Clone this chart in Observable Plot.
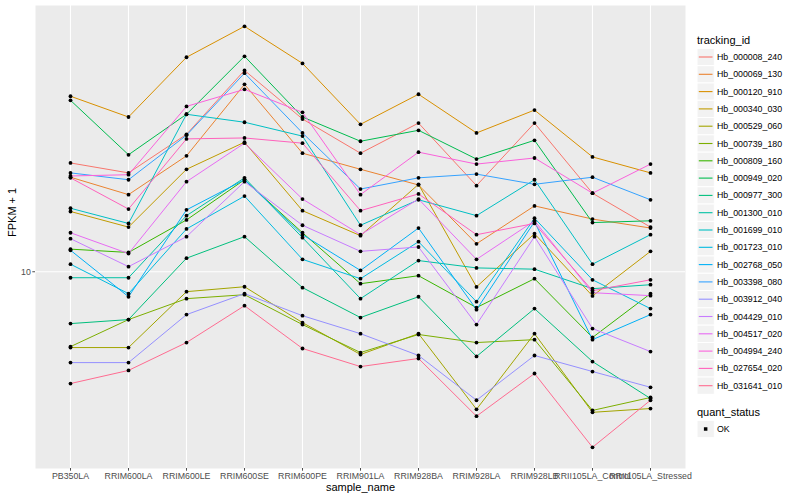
<!DOCTYPE html>
<html><head><meta charset="utf-8">
<script src="https://cdn.jsdelivr.net/npm/d3@7"></script>
<script src="https://cdn.jsdelivr.net/npm/@observablehq/plot@0.6"></script>
<style>
body{margin:0;background:#fff;}
</style></head><body><div id="wrap"></div>
<script>
const FONT = "'Liberation Sans', Arial, Helvetica, sans-serif";
const samples = ["PB350LA","RRIM600LA","RRIM600LE","RRIM600SE","RRIM600PE","RRIM901LA","RRIM928BA","RRIM928LA","RRIM928LB","RRII105LA_Control","RRII105LA_Stressed"];
const trackingIds = ["Hb_000008_240","Hb_000069_130","Hb_000120_910","Hb_000340_030","Hb_000529_060","Hb_000739_180","Hb_000809_160","Hb_000949_020","Hb_000977_300","Hb_001300_010","Hb_001699_010","Hb_001723_010","Hb_002768_050","Hb_003398_080","Hb_003912_040","Hb_004429_010","Hb_004517_020","Hb_004994_240","Hb_027654_020","Hb_031641_010"];
const colors = ["#F8766D","#EA8331","#D89000","#C09B00","#A3A500","#7CAE00","#39B600","#00BB4E","#00BF7D","#00C1A3","#00BFC4","#00BAE0","#00B0F6","#35A2FF","#9590FF","#C77CFF","#E76BF3","#FA62DB","#FF62BC","#FF6C91"];

// FPKM + 1 per sample, in the order of `samples`
const Hb_000008_240 = [23.1, 21.4, 28.8, 47.1, 32.4, 24.9, 31.4, 19.4, 31.4, 18.3, 14.1];
const Hb_000069_130 = [20.7, 18.1, 24.4, 42.3, 24.9, 22.0, 19.5, 12.4, 16.6, 15.0, 14.0];
const Hb_000120_910 = [38.6, 32.9, 52.1, 66.1, 49.7, 31.1, 39.2, 29.1, 34.7, 24.2, 21.4];
const Hb_000340_030 = [15.9, 14.1, 22.0, 27.1, 16.0, 13.2, 19.6, 8.9, 13.4, 8.3, 11.7];
const Hb_000529_060 = [5.58, 5.58, 8.58, 8.91, 6.76, 5.29, 6.21, 3.47, 6.21, 3.39, 3.49];
const Hb_000739_180 = [5.62, 6.92, 8.13, 8.38, 6.66, 5.37, 6.17, 5.80, 5.93, 3.44, 3.80];
const Hb_000809_160 = [11.9, 11.6, 14.9, 20.3, 13.5, 9.12, 9.70, 7.59, 9.48, 6.03, 8.45];
const Hb_000949_020 = [37.4, 24.6, 33.6, 52.5, 32.9, 27.3, 29.7, 23.8, 27.5, 14.6, 14.8];
const Hb_000977_300 = [6.71, 6.92, 11.1, 13.1, 8.85, 7.03, 8.25, 5.21, 7.53, 5.01, 3.77];
const Hb_001300_010 = [9.55, 9.55, 15.4, 20.6, 13.0, 8.13, 10.9, 10.3, 10.2, 8.78, 9.05];
const Hb_001699_010 = [16.3, 14.5, 33.6, 31.6, 28.4, 14.3, 17.4, 15.4, 20.3, 10.6, 13.3];
const Hb_001723_010 = [10.6, 8.45, 13.9, 17.9, 11.0, 9.48, 12.6, 7.94, 15.1, 9.40, 7.53];
const Hb_002768_050 = [11.8, 8.25, 16.1, 20.3, 13.3, 10.1, 14.0, 7.47, 14.7, 5.93, 7.19];
const Hb_003398_080 = [21.4, 20.3, 28.6, 46.1, 29.1, 18.9, 20.6, 21.2, 19.6, 20.7, 17.4];
const Hb_003912_040 = [4.97, 4.97, 7.19, 8.45, 7.13, 6.21, 5.25, 3.72, 5.25, 4.64, 4.11];
const Hb_004429_010 = [12.9, 10.4, 13.1, 20.0, 14.3, 11.7, 12.1, 6.66, 13.1, 6.46, 5.41];
const Hb_004517_020 = [13.5, 11.5, 20.0, 26.9, 17.5, 13.3, 17.5, 11.0, 14.8, 8.51, 8.32];
const Hb_004994_240 = [20.9, 21.1, 35.7, 40.7, 34.1, 18.1, 25.1, 22.9, 24.0, 18.3, 22.9];
const Hb_027654_020 = [20.6, 16.2, 27.8, 28.0, 26.9, 16.0, 18.2, 13.3, 14.5, 8.64, 9.40];
const Hb_031641_010 = [4.23, 4.68, 5.80, 7.70, 5.54, 4.82, 5.13, 3.29, 4.57, 2.59, 3.72];

const seriesValues = [Hb_000008_240, Hb_000069_130, Hb_000120_910, Hb_000340_030, Hb_000529_060, Hb_000739_180, Hb_000809_160, Hb_000949_020, Hb_000977_300, Hb_001300_010, Hb_001699_010, Hb_001723_010, Hb_002768_050, Hb_003398_080, Hb_003912_040, Hb_004429_010, Hb_004517_020, Hb_004994_240, Hb_027654_020, Hb_031641_010];
const yTicks = [10];
const quantStatus = ["OK"];

const rows = [];
trackingIds.forEach((id, i) => {
  samples.forEach((s, j) => rows.push({id, sample: s, value: seriesValues[i][j], status: "OK"}));
});

const chart = Plot.plot({
  width: 800, height: 500,
  marginLeft: 35, marginRight: 115, marginTop: 5, marginBottom: 32,
  style: {fontFamily: FONT, background: "white", overflow: "visible"},
  x: {type: "point", domain: samples, padding: 0.6},
  y: {type: "log", domain: [2.2, 77.6]},
  color: {domain: trackingIds, range: colors},
  marks: [
    Plot.frame({fill: "#EBEBEB", stroke: "none"}),
    Plot.gridX(samples, {stroke: "white", strokeOpacity: 1, strokeWidth: 1.1}),
    Plot.gridY(yTicks, {stroke: "white", strokeOpacity: 1, strokeWidth: 1.1}),
    Plot.axisX({tickSize: 2.7, tickPadding: 2, fontSize: 8.8, color: "#4D4D4D", label: null}),
    Plot.axisY({ticks: yTicks, tickFormat: d => String(d), tickSize: 2.7, tickPadding: 2, fontSize: 8.8, color: "#4D4D4D", label: null}),
    Plot.line(rows, {x: "sample", y: "value", z: "id", stroke: "id", strokeWidth: 1}),
    Plot.dot(rows, {x: "sample", y: "value", fill: "black", r: 1.9, stroke: "none"}),
    Plot.text(["sample_name"], {text: d => d, frameAnchor: "bottom", dy: 22, fontSize: 11, fill: "black"}),
    Plot.text(["FPKM + 1"], {text: d => d, frameAnchor: "left", dx: -23, rotate: -90, fontSize: 11, fill: "black"})
  ]
});
document.getElementById("wrap").appendChild(chart);

// legend (right side)
const svg = d3.select(chart);
const lg = svg.append("g").attr("font-family", FONT).attr("fill", "black").attr("text-anchor", "start");
lg.append("text").attr("x", 697).attr("y", 40).attr("dy", "0.35em").attr("font-size", 11).attr("text-anchor", "start").text("tracking_id");
trackingIds.forEach((id, i) => {
  const cy = 57 + i * 17.3;
  lg.append("rect").attr("x", 697).attr("y", cy - 8.65).attr("width", 17.3).attr("height", 17.3).attr("fill", "#F2F2F2").attr("stroke", "white");
  lg.append("line").attr("x1", 698.8).attr("x2", 712.5).attr("y1", cy).attr("y2", cy).attr("stroke", colors[i]).attr("stroke-width", 1.1);
  lg.append("text").attr("x", 717).attr("y", cy).attr("dy", "0.35em").attr("font-size", 8.8).attr("text-anchor", "start").text(id);
});
lg.append("text").attr("x", 697).attr("y", 412).attr("dy", "0.35em").attr("font-size", 11).attr("text-anchor", "start").text("quant_status");
quantStatus.forEach((q, i) => {
  const cy = 429 + i * 17.3;
  lg.append("rect").attr("x", 697).attr("y", cy - 8.65).attr("width", 17.3).attr("height", 17.3).attr("fill", "#F2F2F2").attr("stroke", "white");
  lg.append("rect").attr("x", 703.9).attr("y", cy - 1.75).attr("width", 3.5).attr("height", 3.5).attr("fill", "black");
  lg.append("text").attr("x", 717).attr("y", cy).attr("dy", "0.35em").attr("font-size", 8.8).attr("text-anchor", "start").text(q);
});
</script>
</body></html>
